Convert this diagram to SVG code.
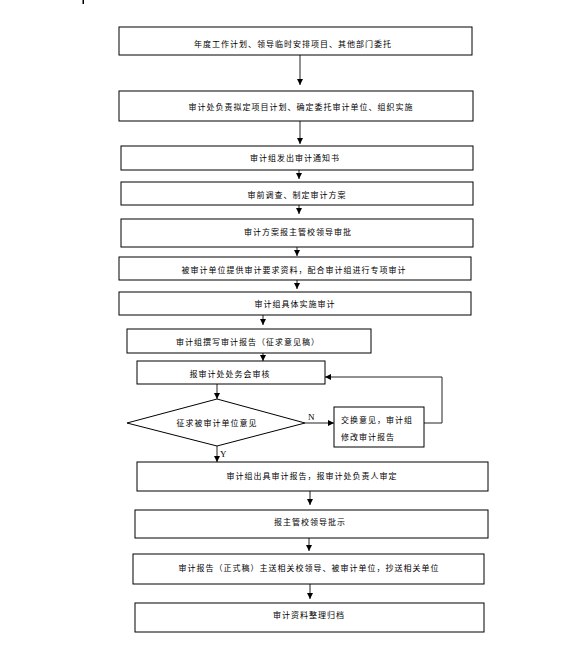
<svg xmlns="http://www.w3.org/2000/svg" width="584" height="657" viewBox="0 0 584 657">
<style>
.box{fill:#fff;stroke:#000;stroke-width:1}
.t{font-family:"Noto Sans CJK SC","Noto Sans CJK JP",sans-serif;font-size:8px;letter-spacing:1px;fill:#000;text-anchor:middle;dominant-baseline:central}
.tl{font-family:"Noto Sans CJK SC","Noto Sans CJK JP",sans-serif;font-size:8px;letter-spacing:1px;fill:#000;dominant-baseline:central}
.yn{font-family:"Liberation Serif",serif;font-size:9px;fill:#000}
.c{fill:none;stroke:#222;stroke-width:1}
</style>
<defs>
<marker id="ah" viewBox="0 0 6 6" refX="6" refY="3" markerWidth="6" markerHeight="6" markerUnits="userSpaceOnUse" orient="auto">
<path d="M0,0 L6,3 L0,6 Z" fill="#000"/>
</marker>
</defs>
<rect x="82.5" y="0" width="1.5" height="4" fill="#000"/>
<g id="connectors">
<line class="c" x1="300" y1="55" x2="300" y2="85" marker-end="url(#ah)"/>
<line class="c" x1="300" y1="121" x2="300" y2="144" marker-end="url(#ah)"/>
<line class="c" x1="299" y1="170" x2="299" y2="179" marker-end="url(#ah)"/>
<line class="c" x1="299" y1="205" x2="299" y2="214" marker-end="url(#ah)"/>
<line class="c" x1="297" y1="247" x2="297" y2="256" marker-end="url(#ah)"/>
<line class="c" x1="297" y1="280" x2="297" y2="289" marker-end="url(#ah)"/>
<line class="c" x1="263" y1="315" x2="263" y2="325" marker-end="url(#ah)"/>
<line class="c" x1="263" y1="353" x2="263" y2="361" marker-end="url(#ah)"/>
<line class="c" x1="217" y1="384" x2="217" y2="399" marker-end="url(#ah)"/>
<line class="c" x1="305" y1="423" x2="334" y2="423" marker-end="url(#ah)"/>
<polyline class="c" points="424,423 442,423 442,377 325,377" marker-end="url(#ah)"/>
<line class="c" x1="217" y1="446" x2="217" y2="462" marker-end="url(#ah)"/>
<line class="c" x1="310" y1="491" x2="310" y2="505" marker-end="url(#ah)"/>
<line class="c" x1="309" y1="538" x2="309" y2="551" marker-end="url(#ah)"/>
<line class="c" x1="310" y1="584" x2="310" y2="599" marker-end="url(#ah)"/>
<text class="yn" x="308" y="420">N</text>
<text class="yn" x="220" y="457">Y</text>
</g>
<g id="n1"><rect class="box" x="119" y="27" width="353" height="28"/><text class="t" x="293" y="43">年度工作计划、领导临时安排项目、其他部门委托</text></g>
<g id="n2"><rect class="box" x="119" y="91" width="354" height="30"/><text class="t" x="301" y="106">审计处负责拟定项目计划、确定委托审计单位、组织实施</text></g>
<g id="n3"><rect class="box" x="121" y="146" width="352" height="24"/><text class="t" x="295" y="157">审计组发出审计通知书</text></g>
<g id="n4"><rect class="box" x="121" y="182" width="352" height="23"/><text class="t" x="297" y="194">审前调查、制定审计方案</text></g>
<g id="n5"><rect class="box" x="121" y="219" width="352" height="28"/><text class="t" x="298" y="231">审计方案报主管校领导审批</text></g>
<g id="n6"><rect class="box" x="119" y="257" width="352" height="23"/><text class="t" x="294" y="269">被审计单位提供审计要求资料，配合审计组进行专项审计</text></g>
<g id="n7"><rect class="box" x="119" y="292" width="352" height="23"/><text class="t" x="295" y="303">审计组具体实施审计</text></g>
<g id="n8"><rect class="box" x="127" y="329" width="244" height="24"/><text class="t" x="248" y="341">审计组撰写审计报告（征求意见稿）</text></g>
<g id="n9"><rect class="box" x="137" y="361" width="188" height="23"/><text class="t" x="230" y="373">报审计处处务会审核</text></g>
<g id="n10"><polygon class="box" points="217,399 305,423 217,446 127,423"/><text class="t" x="217" y="422">征求被审计单位意见</text></g>
<g id="n11"><rect class="box" x="334" y="407" width="90" height="40"/><text class="tl" x="341" y="419">交换意见，审计组</text><text class="tl" x="341" y="436">修改审计报告</text></g>
<g id="n12"><rect class="box" x="137" y="462" width="351" height="29"/><text class="t" x="312" y="475">审计组出具审计报告，报审计处负责人审定</text></g>
<g id="n13"><rect class="box" x="135" y="510" width="353" height="28"/><text class="t" x="310" y="521">报主管校领导批示</text></g>
<g id="n14"><rect class="box" x="133" y="554" width="351" height="30"/><text class="t" x="309" y="567">审计报告（正式稿）主送相关校领导、被审计单位，抄送相关单位</text></g>
<g id="n15"><rect class="box" x="135" y="603" width="349" height="29"/><text class="t" x="309" y="614">审计资料整理归档</text></g>
</svg>
